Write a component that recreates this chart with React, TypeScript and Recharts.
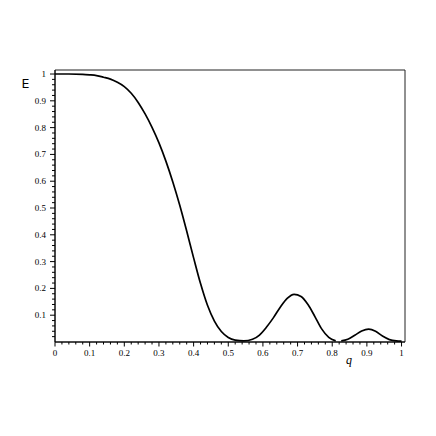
import React from "react";
import { LineChart, Line, XAxis, YAxis, ReferenceArea } from "recharts";

const qValues: number[] = [
  0.0, 0.04, 0.08, 0.1, 0.12, 0.14, 0.16, 0.18, 0.2, 0.22, 0.24, 0.26, 0.28, 0.3, 0.32, 0.34,
  0.36, 0.38, 0.4, 0.42, 0.44, 0.46, 0.48, 0.5, 0.52, 0.545, 0.57, 0.59, 0.61, 0.63, 0.65,
  0.67, 0.69, 0.71, 0.73, 0.75, 0.77, 0.79, 0.81, 0.818, 0.826, 0.845, 0.865, 0.885, 0.905,
  0.925, 0.945, 0.965, 0.985, 1.0,
];
const eValues: (number | null)[] = [
  1.0, 1.0, 0.999, 0.997, 0.994, 0.988, 0.981, 0.969, 0.953, 0.928, 0.894, 0.851, 0.801, 0.743, 0.675, 0.597,
  0.51, 0.414, 0.314, 0.218, 0.137, 0.078, 0.039, 0.017, 0.007, 0.004, 0.01, 0.026, 0.055, 0.09, 0.13,
  0.163, 0.178, 0.17, 0.14, 0.095, 0.048, 0.017, 0.004, null, 0.004, 0.01, 0.025, 0.041, 0.048,
  0.04, 0.022, 0.009, 0.004, 0.003,
];

const xMajorTicks: number[] = [0, 0.1, 0.2, 0.3, 0.4, 0.5, 0.6, 0.7, 0.8, 0.9, 1];
const xTickLabels: string[] = ["0", "0.1", "0.2", "0.3", "0.4", "0.5", "0.6", "0.7", "0.8", "0.9", "1"];
const yMajorTicks: number[] = [0.1, 0.2, 0.3, 0.4, 0.5, 0.6, 0.7, 0.8, 0.9, 1];
const yTickLabels: string[] = ["0.1", "0.2", "0.3", "0.4", "0.5", "0.6", "0.7", "0.8", "0.9", "1"];

const xTicks: number[] = Array.from({ length: 51 }, (_, i) => Math.round(i * 2) / 100);
const yTicks: number[] = Array.from({ length: 50 }, (_, i) => Math.round((i + 1) * 2) / 100);

const data = qValues.map((q, i) => ({ q, e: eValues[i] }));

const labelFont = "'Liberation Serif', 'DejaVu Serif', serif";

function majorIndex(list: number[], v: number): number {
  return list.findIndex((m) => Math.abs(m - v) < 1e-6);
}

const XTick = (props: any) => {
  const { x, y, payload } = props;
  const idx = majorIndex(xMajorTicks, payload.value);
  const major = idx >= 0;
  return (
    <g>
      <line x1={x} x2={x} y1={y} y2={y + (major ? 4.5 : 2.5)} stroke="#000" strokeWidth={1} />
      {major && (
        <text x={x} y={y + 14} textAnchor="middle" fontSize={9} fontFamily={labelFont} fill="#000">
          {xTickLabels[idx]}
        </text>
      )}
    </g>
  );
};

const YTick = (props: any) => {
  const { x, y, payload } = props;
  const idx = majorIndex(yMajorTicks, payload.value);
  const major = idx >= 0;
  return (
    <g>
      <line x1={x} x2={x - (major ? 5 : 3)} y1={y} y2={y} stroke="#000" strokeWidth={1} />
      {major && (
        <text x={x - 9} y={y + 3} textAnchor="end" fontSize={9} fontFamily={labelFont} fill="#000">
          {yTickLabels[idx]}
        </text>
      )}
    </g>
  );
};

export default function App() {
  return (
    <div style={{ position: "absolute", left: 0, top: 0, width: 436, height: 436, background: "#fff" }}>
      <LineChart
        width={436}
        height={436}
        data={data}
        margin={{ top: 70, right: 31, bottom: 64, left: 10 }}
      >
        <XAxis
          dataKey="q"
          type="number"
          domain={[0, 1.01]}
          ticks={xTicks}
          interval={0}
          tick={<XTick />}
          tickLine={false}
          tickSize={0}
          tickMargin={0}
          height={30}
          axisLine={{ stroke: "#000" }}
          allowDataOverflow
        />
        <YAxis
          type="number"
          domain={[0, 1.015]}
          ticks={yTicks}
          interval={0}
          tick={<YTick />}
          tickLine={false}
          tickSize={0}
          tickMargin={0}
          width={45}
          axisLine={{ stroke: "#000" }}
          allowDataOverflow
        />
        <ReferenceArea
          x1={0}
          x2={1.01}
          y1={0}
          y2={1.015}
          fill="none"
          fillOpacity={0}
          stroke="#222"
          strokeWidth={1}
          ifOverflow="visible"
        />
        <Line
          type="monotone"
          dataKey="e"
          stroke="#000"
          strokeWidth={1.7}
          dot={false}
          connectNulls={false}
          isAnimationActive={false}
        />
      </LineChart>
      <svg
        width={436}
        height={436}
        style={{ position: "absolute", left: 0, top: 0, pointerEvents: "none" }}
      >
        <text x={21.5} y={87.5} fontSize={12.5} fontFamily="'DejaVu Sans', sans-serif" fill="#000">
          E
        </text>
        <text x={346} y={364} fontSize={12} fontStyle="italic" fontFamily={labelFont} fill="#000">
          q
        </text>
      </svg>
    </div>
  );
}
